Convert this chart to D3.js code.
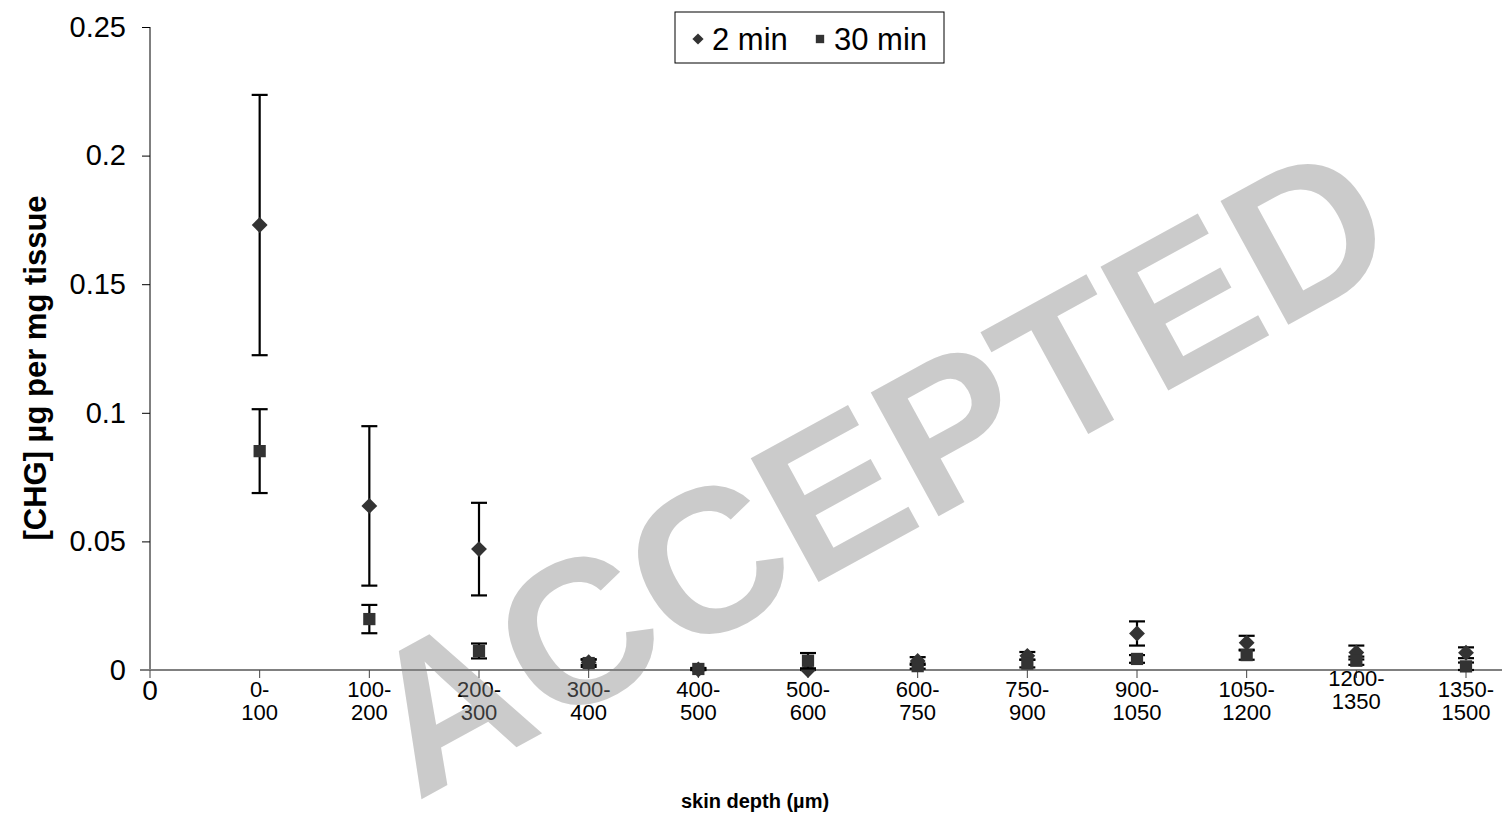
<!DOCTYPE html>
<html>
<head>
<meta charset="utf-8">
<script src="https://cdn.jsdelivr.net/npm/d3@7"></script>
<style>
	body { margin: 0; background: #fff; }
	svg { display: block; font-family: 'Liberation Sans', Arial, sans-serif; }
</style>
</head>
<body>
<script>
// skin depth bins (µm)
var categories = ['0-100', '100-200', '200-300', '300-400', '400-500', '500-600',
	'600-750', '750-900', '900-1050', '1050-1200', '1200-1350', '1350-1500'];

// [CHG] µg per mg tissue, mean and error
var min2 = [0.173, 0.0638, 0.047, 0.003, 0.0002, 0.0, 0.0035, 0.0055, 0.0142, 0.0106, 0.0068, 0.0067];
var min2Err = [0.0506, 0.031, 0.018, 0.001, 0.0005, 0.0005, 0.0015, 0.0015, 0.0047, 0.0027, 0.0027, 0.0021];
var min30 = [0.0851, 0.0198, 0.0074, 0.0027, 0.0004, 0.0036, 0.0015, 0.0025, 0.0043, 0.0058, 0.0036, 0.0014];
var min30Err = [0.0163, 0.0055, 0.0029, 0.0015, 0.0004, 0.003, 0.001, 0.0015, 0.0015, 0.0018, 0.0016, 0.0015];

var yTicks = [0, 0.05, 0.1, 0.15, 0.2, 0.25];
var seriesNames = ['2 min', '30 min'];

var width = 1502,
	height = 818,
	markerColor = '#333',
	capWidth = 16;

var svg = d3.select('body').append('svg')
	.attr('width', width)
	.attr('height', height);

var x = d3.scaleLinear().domain([0, categories.length]).range([150, 1466]);
var y = d3.scaleLinear().domain([0, 0.25]).range([670, 27]);

// y axis
var yAxis = d3.axisLeft(y)
	.tickValues(yTicks)
	.tickSize(8)
	.tickFormat(function (d) { return d === 0 ? '0' : String(+d.toFixed(2)); });
var yAxisEl = svg.append('g')
	.attr('transform', 'translate(' + x(0) + ',0)')
	.call(yAxis);
yAxisEl.select('.domain').attr('stroke', '#000').attr('d', 'M0,' + y(0.25) + 'V' + y(0));
yAxisEl.selectAll('line').attr('stroke', '#000');
yAxisEl.selectAll('text')
	.attr('x', -24)
	.attr('fill', '#000')
	.style('font-size', '29px');

// x axis line and ticks
svg.append('line')
	.attr('x1', 140).attr('x2', width)
	.attr('y1', y(0)).attr('y2', y(0))
	.attr('stroke', '#808080').attr('stroke-width', 2);
var tickIdx = d3.range(categories.length + 1);
svg.append('g').selectAll('line').data(tickIdx).enter().append('line')
	.attr('x1', function (d) { return x(d); })
	.attr('x2', function (d) { return x(d); })
	.attr('y1', y(0)).attr('y2', y(0) + 8)
	.attr('stroke', '#444');

svg.append('text')
	.attr('x', x(0)).attr('y', y(0) + 30)
	.attr('text-anchor', 'middle')
	.style('font-size', '28px')
	.text('0');

var catLabels = svg.append('g').selectAll('text').data(categories).enter().append('text')
	.attr('text-anchor', 'middle')
	.attr('transform', function (d, i) {
		// the 1200-1350 label sits a bit higher in the original
		var dy = d === '1200-1350' ? -11 : 0;
		return 'translate(' + x(i + 1) + ',' + (y(0) + 27 + dy) + ')';
	})
	.style('font-size', '22px');
catLabels.append('tspan').attr('x', 0).attr('y', 0).text(function (d) { return d.split('-')[0] + '-'; });
catLabels.append('tspan').attr('x', 0).attr('y', 23).text(function (d) { return d.split('-')[1]; });

// axis titles
svg.append('text')
	.attr('x', 755).attr('y', 808)
	.attr('text-anchor', 'middle')
	.style('font-size', '20px').style('font-weight', 'bold')
	.text('skin depth (µm)');

svg.append('text')
	.attr('transform', 'translate(46,' + 368 + ') rotate(-90)')
	.attr('text-anchor', 'middle')
	.style('font-size', '31px').style('font-weight', 'bold')
	.text('[CHG] µg per mg tissue');

// error bars + markers
var diamond = d3.symbol().type(d3.symbolDiamond2).size(160);
var square = d3.symbol().type(d3.symbolSquare).size(150);

function drawSeries(values, errs, sym) {
	var g = svg.append('g');
	var bars = g.selectAll('.err').data(values).enter().append('g')
		.attr('stroke', '#000').attr('stroke-width', 2.2);
	bars.append('line')
		.attr('x1', function (d, i) { return x(i + 1); })
		.attr('x2', function (d, i) { return x(i + 1); })
		.attr('y1', function (d, i) { return y(d + errs[i]); })
		.attr('y2', function (d, i) { return y(Math.max(0, d - errs[i])); });
	[1, -1].forEach(function (s) {
		bars.append('line')
			.attr('x1', function (d, i) { return x(i + 1) - capWidth / 2; })
			.attr('x2', function (d, i) { return x(i + 1) + capWidth / 2; })
			.attr('y1', function (d, i) { return y(Math.max(0, d + s * errs[i])); })
			.attr('y2', function (d, i) { return y(Math.max(0, d + s * errs[i])); });
	});
	g.selectAll('.pt').data(values).enter().append('path')
		.attr('d', sym)
		.attr('fill', markerColor)
		.attr('transform', function (d, i) { return 'translate(' + x(i + 1) + ',' + y(d) + ')'; });
}
drawSeries(min2, min2Err, diamond);
drawSeries(min30, min30Err, square);

// legend
var legend = svg.append('g').attr('transform', 'translate(675,12)');
legend.append('rect')
	.attr('width', 269).attr('height', 51)
	.attr('fill', '#fff').attr('stroke', '#000').attr('stroke-width', 1);
legend.append('path')
	.attr('d', d3.symbol().type(d3.symbolDiamond2).size(80))
	.attr('fill', markerColor)
	.attr('transform', 'translate(23,27)');
legend.append('text').attr('x', 37).attr('y', 38).style('font-size', '31px').text(seriesNames[0]);
legend.append('path')
	.attr('d', d3.symbol().type(d3.symbolSquare).size(70))
	.attr('fill', markerColor)
	.attr('transform', 'translate(145,27)');
legend.append('text').attr('x', 159).attr('y', 38).style('font-size', '31px').text(seriesNames[1]);

// watermark
svg.append('text')
	.attr('transform', 'translate(877,468) rotate(-28.7)')
	.attr('text-anchor', 'middle')
	.attr('dy', '0.35em')
	.attr('fill', 'rgb(132,132,132)')
	.attr('fill-opacity', 0.42)
	.style('font-size', '205px').style('font-weight', 'bold')
	.text('ACCEPTED');
</script>
</body>
</html>
